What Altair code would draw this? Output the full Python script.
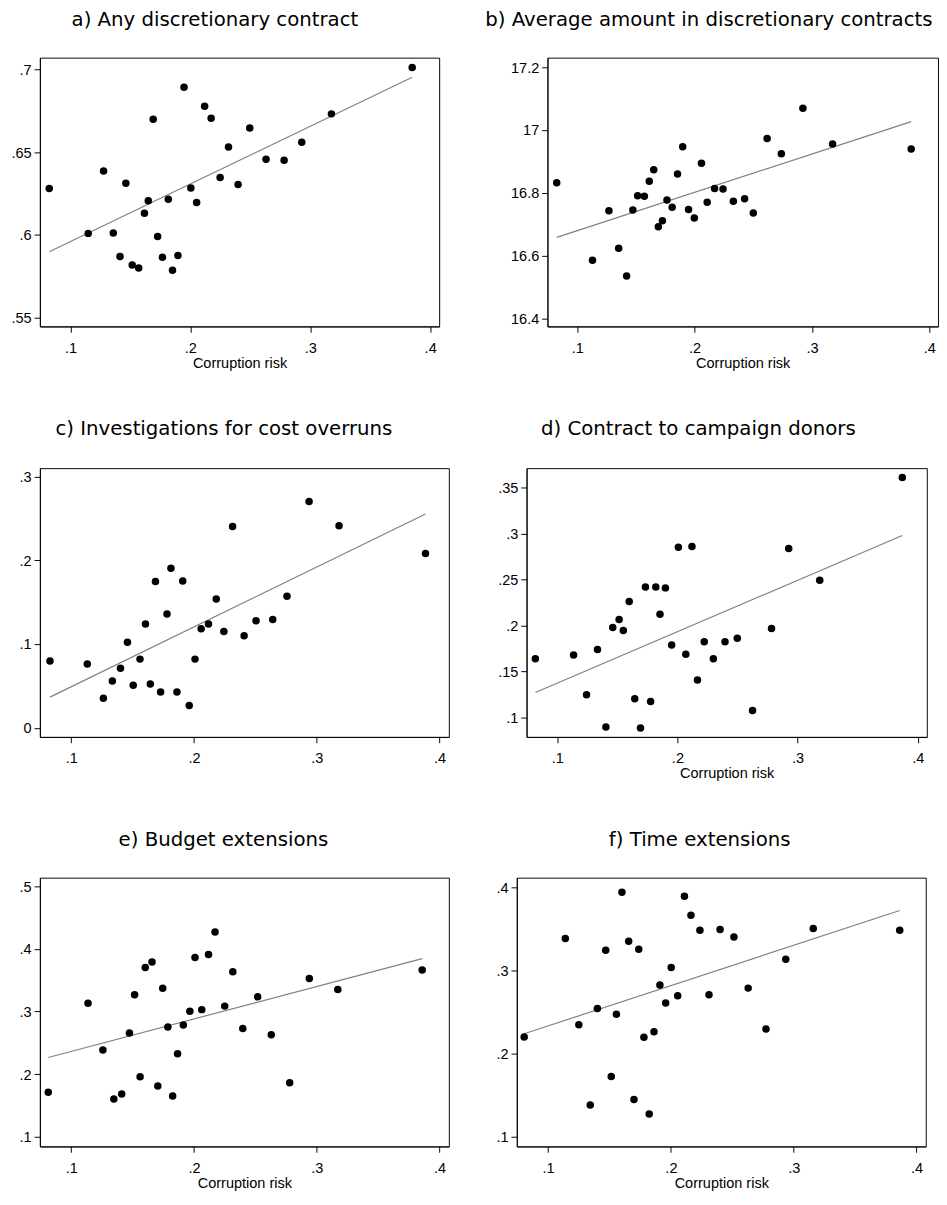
import altair as alt
import pandas as pd

# ---------------- data ----------------
titles = [
    "a) Any discretionary contract",
    "b) Average amount in discretionary contracts",
    "c) Investigations for cost overruns",
    "d) Contract to campaign donors",
    "e) Budget extensions",
    "f) Time extensions",
]

x_ticks = [0.1, 0.2, 0.3, 0.4]

a_x = [0.0823, 0.1148, 0.1276, 0.1357, 0.1413, 0.1462, 0.1515, 0.1569, 0.1617, 0.1649,
       0.1690, 0.1727, 0.1767, 0.1816, 0.1851, 0.1896, 0.1947, 0.2004, 0.2052, 0.2119,
       0.2173, 0.2248, 0.2318, 0.2398, 0.2495, 0.2631, 0.2782, 0.2929, 0.3176, 0.3850]
a_y = [0.6281, 0.6009, 0.6386, 0.6011, 0.5869, 0.6312, 0.5817, 0.5799, 0.6131, 0.6207,
       0.6699, 0.5990, 0.5865, 0.6215, 0.5786, 0.5875, 0.6893, 0.6283, 0.6196, 0.6778,
       0.6705, 0.6347, 0.6532, 0.6304, 0.6646, 0.6458, 0.6452, 0.6561, 0.6732, 0.7012]
a_fit = [0.5898, 0.6953]
a_ticks = [0.55, 0.6, 0.65, 0.7]

b_x = [0.0824, 0.1129, 0.1269, 0.1352, 0.1420, 0.1473, 0.1514, 0.1571, 0.1613, 0.1651,
       0.1690, 0.1725, 0.1764, 0.1808, 0.1854, 0.1898, 0.1948, 0.1997, 0.2058, 0.2107,
       0.2170, 0.2242, 0.2330, 0.2426, 0.2500, 0.2618, 0.2739, 0.2923, 0.3176, 0.3846]
b_y = [16.832, 16.585, 16.743, 16.623, 16.535, 16.745, 16.791, 16.789, 16.837, 16.874,
       16.692, 16.711, 16.777, 16.754, 16.860, 16.947, 16.747, 16.720, 16.894, 16.770,
       16.814, 16.812, 16.773, 16.781, 16.736, 16.973, 16.925, 17.070, 16.956, 16.940]
b_fit = [16.658, 17.027]
b_ticks = [16.4, 16.6, 16.8, 17, 17.2]

c_x = [0.0827, 0.1131, 0.1262, 0.1335, 0.1401, 0.1458, 0.1505, 0.1560, 0.1605, 0.1644,
       0.1686, 0.1728, 0.1780, 0.1812, 0.1861, 0.1908, 0.1961, 0.2008, 0.2058, 0.2118,
       0.2181, 0.2243, 0.2314, 0.2408, 0.2505, 0.2641, 0.2757, 0.2937, 0.3181, 0.3885]
c_y = [0.0797, 0.0763, 0.0354, 0.0558, 0.0712, 0.1021, 0.0508, 0.0820, 0.1240, 0.0524,
       0.1748, 0.0427, 0.1359, 0.1906, 0.0427, 0.1752, 0.0266, 0.0820, 0.1182, 0.1240,
       0.1537, 0.1151, 0.2403, 0.1098, 0.1279, 0.1294, 0.1571, 0.2703, 0.2411, 0.2080]
c_fit = [0.0366, 0.2553]
c_ticks = [0, 0.1, 0.2, 0.3]

d_x = [0.0818, 0.1136, 0.1244, 0.1335, 0.1405, 0.1462, 0.1515, 0.1550, 0.1599, 0.1645,
       0.1693, 0.1734, 0.1777, 0.1820, 0.1855, 0.1900, 0.1952, 0.2008, 0.2070, 0.2121,
       0.2167, 0.2223, 0.2299, 0.2396, 0.2498, 0.2625, 0.2783, 0.2926, 0.3184, 0.3871]
d_y = [0.1637, 0.1679, 0.1245, 0.1739, 0.0895, 0.1977, 0.2064, 0.1945, 0.2261, 0.1203,
       0.0884, 0.2418, 0.1172, 0.2418, 0.2120, 0.2408, 0.1788, 0.2849, 0.1686, 0.2859,
       0.1406, 0.1823, 0.1637, 0.1823, 0.1861, 0.1074, 0.1966, 0.2835, 0.2492, 0.3609]
d_fit = [0.1270, 0.2978]
d_ticks = [0.1, 0.15, 0.2, 0.25, 0.3, 0.35]

e_x = [0.0813, 0.1137, 0.1258, 0.1347, 0.1411, 0.1474, 0.1516, 0.1561, 0.1603, 0.1658,
       0.1705, 0.1745, 0.1787, 0.1826, 0.1866, 0.1913, 0.1966, 0.2008, 0.2063, 0.2118,
       0.2171, 0.2250, 0.2316, 0.2397, 0.2518, 0.2629, 0.2779, 0.2939, 0.3171, 0.3858]
e_y = [0.1713, 0.3133, 0.2385, 0.1605, 0.1682, 0.2656, 0.3267, 0.1959, 0.3703, 0.3790,
       0.1810, 0.3374, 0.2754, 0.1651, 0.2328, 0.2785, 0.3005, 0.3862, 0.3031, 0.3913,
       0.4272, 0.3087, 0.3636, 0.2728, 0.3236, 0.2631, 0.1862, 0.3528, 0.3354, 0.3662]
e_fit = [0.2267, 0.3846]
e_ticks = [0.1, 0.2, 0.3, 0.4, 0.5]

f_x = [0.0805, 0.1140, 0.1250, 0.1343, 0.1401, 0.1469, 0.1514, 0.1556, 0.1601, 0.1656,
       0.1699, 0.1738, 0.1780, 0.1823, 0.1862, 0.1910, 0.1957, 0.2002, 0.2055, 0.2110,
       0.2163, 0.2236, 0.2310, 0.2400, 0.2513, 0.2629, 0.2774, 0.2935, 0.3159, 0.3863]
f_y = [0.2201, 0.3386, 0.2347, 0.1382, 0.2544, 0.3243, 0.1726, 0.2475, 0.3942, 0.3351,
       0.1448, 0.3255, 0.2197, 0.1274, 0.2263, 0.2826, 0.2610, 0.3035, 0.2695, 0.3892,
       0.3664, 0.3483, 0.2707, 0.3494, 0.3402, 0.2788, 0.2297, 0.3135, 0.3506, 0.3483]
f_fit = [0.2239, 0.3722]
f_ticks = [0.1, 0.2, 0.3, 0.4]

# ---------------- styling / layout ----------------
X_DOMAIN = [0.0745, 0.4075]
Y_DOMAINS = [
    [0.5446, 0.7072],
    [16.374, 17.231],
    [-0.0109, 0.310],
    [0.0787, 0.371],
    [0.0846, 0.5138],
    [0.0884, 0.4116],
]
TITLE_FONT = "DejaVu Sans"
LABEL_FONT = "Liberation Sans"
LBL = "replace('' + datum.value, '0.', '.')"


def panel(title, xs, ys, fit, yticks, ydom, width, height, extent, tcx, tgap, xtitle=True):
    pts = pd.DataFrame({"x": xs, "y": ys})
    line = pd.DataFrame({"x": [min(xs), max(xs)], "y": fit})
    ttl = pd.DataFrame({"t": [title]})
    if xtitle:
        xax = alt.Axis(values=x_ticks, labelExpr=LBL, title="Corruption risk",
                       titleFont=LABEL_FONT, titleFontSize=15, titleFontWeight="normal",
                       titleColor="black", titlePadding=1)
    else:
        xax = alt.Axis(values=x_ticks, labelExpr=LBL, title=None)
    yax = alt.Axis(values=yticks, labelExpr=LBL, title=None,
                   minExtent=extent, maxExtent=extent)
    xenc = alt.X("x:Q", scale=alt.Scale(domain=X_DOMAIN, nice=False, zero=False), axis=xax)
    yenc = alt.Y("y:Q", scale=alt.Scale(domain=ydom, nice=False, zero=False), axis=yax)
    dots = alt.Chart(pts).mark_circle(size=60, color="black", opacity=1).encode(x=xenc, y=yenc)
    fitl = alt.Chart(line).mark_line(color="#808080", strokeWidth=1.2).encode(x=xenc, y=yenc)
    head = alt.Chart(ttl).mark_text(
        font=TITLE_FONT, fontSize=20.4, color="black", align="center", baseline="alphabetic"
    ).encode(text="t:N", x=alt.value(tcx), y=alt.value(-tgap))
    return alt.layer(fitl, dots, head).properties(width=width, height=height)


H = 278
pa = panel(titles[0], a_x, a_y, a_fit, a_ticks, Y_DOMAINS[0], 413, H, 32, 181, 32.5)
pb = panel(titles[1], b_x, b_y, b_fit, b_ticks, Y_DOMAINS[1], 404, H, 41.7, 167, 32.5)
pc = panel(titles[2], c_x, c_y, c_fit, c_ticks, Y_DOMAINS[2], 423, H, 22.7, 190.3, 34.5, xtitle=False)
pd_ = panel(titles[3], d_x, d_y, d_fit, d_ticks, Y_DOMAINS[3], 414, H, 30.6, 177.7, 34.5)
pe = panel(titles[4], e_x, e_y, e_fit, e_ticks, Y_DOMAINS[4], 423, H, 22.7, 189.8, 33)
pf = panel(titles[5], f_x, f_y, f_fit, f_ticks, Y_DOMAINS[5], 423, H, 23, 189.2, 33)

row1 = alt.hconcat(pa, pb, spacing=46)
row2 = alt.hconcat(pc, pd_, spacing=47.4)
row3 = alt.hconcat(pe, pf, spacing=45.3)

chart = alt.vconcat(row1, row2, row3, spacing=49.6).properties(
    padding={"left": 0, "top": -18.3, "right": 0, "bottom": 0},
    background="white",
).configure_view(
    stroke="black", strokeWidth=1
).configure_axis(
    grid=False, domainColor="black", domainWidth=1, tickColor="black", tickSize=6,
    tickWidth=1, labelFont=LABEL_FONT, labelFontSize=15, labelColor="black",
    labelPadding=3
).configure_axisX(
    labelPadding=8.5
)

chart.save("out.html", embed_options={"renderer": "svg", "actions": False})
